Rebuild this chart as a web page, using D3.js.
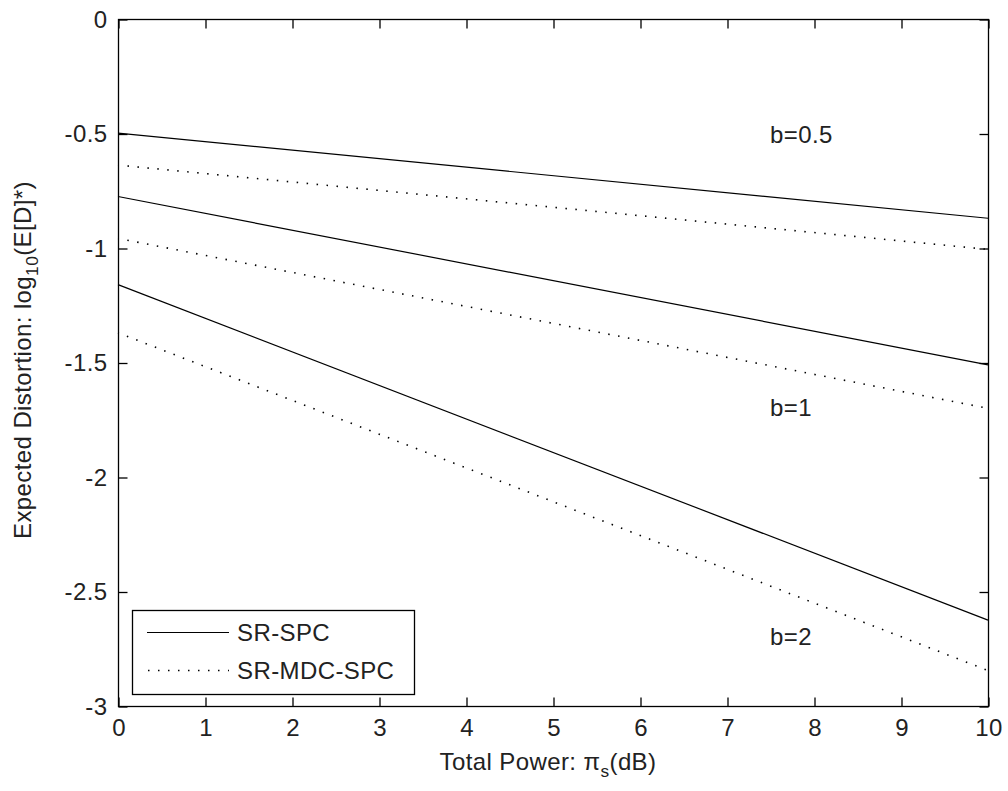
<!DOCTYPE html>
<html><head><meta charset="utf-8">
<script src="https://cdn.jsdelivr.net/npm/d3@7"></script>
<style>
body{margin:0;background:#fff;}
text{font-family:"Liberation Sans",Arial,sans-serif;fill:#222;letter-spacing:0.4px;}
</style></head>
<body>
<svg id="chart" width="1008" height="791"></svg>
<script>
// x-values (Total Power, dB)
const powerDb = [0, 10];
// Expected distortion log10(E[D]*)
const srSpcB05 = [-0.498, -0.870];
const srMdcB05 = [-0.638, -1.006];
const srSpcB1  = [-0.775, -1.510];
const srMdcB1  = [-0.958, -1.700];
const srSpcB2  = [-1.160, -2.625];
const srMdcB2  = [-1.370, -2.845];
const xTicks = [0,1,2,3,4,5,6,7,8,9,10];
const yTicks = [0,-0.5,-1,-1.5,-2,-2.5,-3];
const curveLabels = [{t:"b=0.5", x:7.5, y:-0.54}, {t:"b=1", x:7.5, y:-1.735}, {t:"b=2", x:7.5, y:-2.735}];
const legendItems = [{name:"SR-SPC", dash:null}, {name:"SR-MDC-SPC", dash:"1.5,8.5"}];

const series = [
  {v:srSpcB05, dash:null}, {v:srMdcB05, dash:"1.5,8.5"},
  {v:srSpcB1, dash:null}, {v:srMdcB1, dash:"1.5,8.5"},
  {v:srSpcB2, dash:null}, {v:srMdcB2, dash:"1.5,8.5"}
];

const L=118, R=988, T=19, B=706;
const svg = d3.select("#chart");
const x = d3.scaleLinear().domain([0,10]).range([L,R]);
const y = d3.scaleLinear().domain([-3,0]).range([B,T]);
const fs = 24;

// frame
svg.append("rect").attr("x",L+0.5).attr("y",T+0.5).attr("width",R-L).attr("height",B-T)
  .attr("fill","none").attr("stroke","#000").attr("stroke-width",1.3);

const tl = 9;
const gxB = svg.append("g").attr("transform",`translate(0.5,${B+0.5})`)
  .call(d3.axisBottom(x).tickValues(xTicks).tickSize(-tl).tickPadding(12).tickFormat(d3.format("d")));
const gxT = svg.append("g").attr("transform",`translate(0.5,${T+0.5})`)
  .call(d3.axisTop(x).tickValues(xTicks).tickSize(-tl).tickFormat(""));
const gyL = svg.append("g").attr("transform",`translate(${L+0.5},0.5)`)
  .call(d3.axisLeft(y).tickValues(yTicks).tickSize(-tl).tickPadding(11).tickFormat(d=>d===0?"0":String(d)));
const gyR = svg.append("g").attr("transform",`translate(${R+0.5},0.5)`)
  .call(d3.axisRight(y).tickValues(yTicks).tickSize(-tl).tickFormat(""));
[gxB,gxT,gyL,gyR].forEach(g=>{
  g.select(".domain").remove();
  g.selectAll(".tick line").attr("stroke","#000").attr("stroke-width",1.3);
  g.selectAll("text").attr("font-size",fs).style("fill","#222").style("font-family",null);
});
gxB.selectAll("text").attr("dy","0.71em");

// lines
const line = d3.line().x((d,i)=>x(powerDb[i])).y(d=>y(d));
series.forEach(s=>{
  svg.append("path").datum(s.v).attr("d",line).attr("fill","none")
    .attr("stroke","#000").attr("stroke-width", s.dash?1.6:1.2)
    .attr("stroke-dasharray", s.dash).attr("stroke-dashoffset", s.dash?0.5:null);
});

// curve labels
curveLabels.forEach(c=>{
  svg.append("text").attr("x",x(c.x)-0.5).attr("y",y(c.y)).attr("font-size",fs).text(c.t);
});

// axis labels
const xl = svg.append("text").attr("x",548).attr("y",770).attr("text-anchor","middle").attr("font-size",fs);
xl.append("tspan").text("Total Power: π");
xl.append("tspan").attr("dy",7).attr("font-size",fs*0.72).text("s");
xl.append("tspan").attr("dy",-7).text("(dB)");

const yl = svg.append("text").attr("transform","translate(31,360) rotate(-90)").attr("text-anchor","middle").attr("font-size",fs);
yl.append("tspan").text("Expected Distortion: log");
yl.append("tspan").attr("dy",7).attr("font-size",fs*0.72).text("10");
yl.append("tspan").attr("dy",-7).text("(E[D]*)");

// legend
const lg = svg.append("g");
lg.append("rect").attr("x",132.5).attr("y",610.5).attr("width",282).attr("height",84)
  .attr("fill","#fff").attr("stroke","#000").attr("stroke-width",1.3);
legendItems.forEach((d,i)=>{
  const yy = 632 + i*38;
  lg.append("line").attr("x1",147).attr("x2",229).attr("y1",yy+0.5).attr("y2",yy+0.5)
    .attr("stroke","#000").attr("stroke-width",d.dash?1.6:1.2).attr("stroke-dasharray",d.dash).attr("stroke-dashoffset",d.dash?-1:null);
  lg.append("text").attr("x",237).attr("y",yy).attr("dy","0.36em").attr("font-size",fs).text(d.name);
});
</script>
</body></html>
